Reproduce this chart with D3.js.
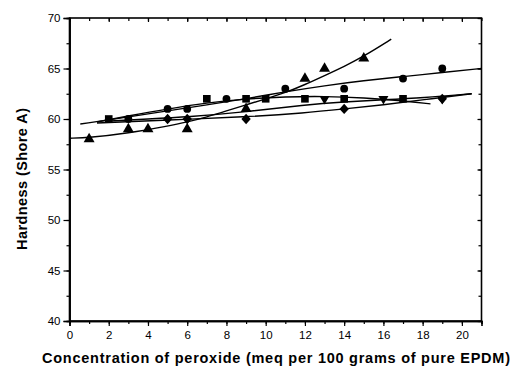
<!DOCTYPE html>
<html><head><meta charset="utf-8">
<script src="https://cdn.jsdelivr.net/npm/d3@7"></script>
<style>body{margin:0;background:#fff}svg{display:block}</style>
</head><body><svg id="c" width="512" height="368"></svg>
<script>
// Measured points (x = peroxide meq/100g, y = Shore A)
const squares   = [[2,60],[7,62],[9,62],[10,62],[12,62],[14,62],[17,62]];
const circles   = [[3,60],[5,61],[6,61],[8,62],[11,63],[14,63],[17,64],[19,65]];
const triUp     = [[1,58],[3,59],[4,59],[6,59],[9,61],[12,64],[13,65],[15,66]];
const diamonds  = [[5,60],[6,60],[9,60],[14,61],[19,62]];
const triDown   = [[13,62],[16,62],[19,62]];
// Fitted curves
const fitTriUp   = [[0,58.1],[1,58.15],[3,58.6],[5,59.3],[6,59.7],[7,60.2],[8,60.8],[9,61.4],[10,62.0],[11,62.6],[12,63.4],[13,64.3],[14,65.2],[15,66.2],[16.4,67.9]];
const fitCircle  = [[0.55,59.5],[3,60.2],[5,60.8],[7,61.4],[9,62.0],[11,62.7],[13,63.3],[15,63.8],[17,64.2],[19,64.6],[21,65.0]];
const fitSquare  = [[1.4,59.7],[3,60.3],[5,61.0],[7,61.6],[9,62.0],[11,62.2],[13,62.25],[15,62.1],[17,61.8],[18.4,61.5]];
const fitTriDown = [[2,59.8],[4,60.0],[6,60.2],[9,60.7],[12,61.4],[14,61.7],[16,61.9],[18,62.1],[20.5,62.5]];
const fitDiamond = [[1.4,59.6],[5,59.9],[9,60.2],[12,60.6],[14,61.0],[16,61.4],[18,61.9],[20.5,62.5]];
const xTicks = [0,2,4,6,8,10,12,14,16,18,20];
const yTicks = [40,45,50,55,60,65,70];
const xLabel = "Concentration of peroxide (meq per 100 grams of pure EPDM)";
const yLabel = "Hardness (Shore A)";

const svg = d3.select("#c");
const L=69.5, R=481.5, T=18, B=321;
const x = d3.scaleLinear().domain([0,21]).range([L,R]);
const y = d3.scaleLinear().domain([40,70]).range([B,T]);
const font = "'Liberation Sans', Arial, sans-serif";

const minorX = d3.range(0,22,1), minorY = d3.range(40,71,2.5);
// bottom axis
const gb = svg.append("g").attr("transform",`translate(0,${B})`)
  .call(d3.axisBottom(x).tickValues(minorX).tickSize(3).tickFormat(""));
gb.append("g").call(d3.axisBottom(x).tickValues(xTicks).tickSize(5).tickPadding(5).tickFormat(d3.format("d")));
// left axis
const gl = svg.append("g").attr("transform",`translate(${L},0)`)
  .call(d3.axisLeft(y).tickValues(minorY).tickSize(3).tickFormat(""));
gl.append("g").call(d3.axisLeft(y).tickValues(yTicks).tickSize(6).tickPadding(3).tickFormat(d3.format("d")));
// top axis (inward)
const gt = svg.append("g").attr("transform",`translate(0,${T})`)
  .call(d3.axisBottom(x).tickValues(minorX).tickSize(3).tickFormat(""));
gt.append("g").call(d3.axisBottom(x).tickValues(xTicks).tickSize(4).tickFormat(""));
// right axis (inward)
const gr = svg.append("g").attr("transform",`translate(${R},0)`)
  .call(d3.axisLeft(y).tickValues(minorY).tickSize(3).tickFormat(""));
gr.append("g").call(d3.axisLeft(y).tickValues(yTicks).tickSize(4).tickFormat(""));

svg.selectAll(".domain").attr("stroke","#000").attr("stroke-width",1.6);
svg.selectAll(".tick line").attr("stroke","#000").attr("stroke-width",1.2);
svg.selectAll(".tick text").attr("font-family",font).attr("font-size",11.5).attr("fill","#000");
[gt,gr].forEach(g=>g.selectAll(".domain").attr("d", null));
svg.append("rect").attr("x",L).attr("y",T).attr("width",R-L).attr("height",B-T)
  .attr("fill","none").attr("stroke","#000").attr("stroke-width",1.6);

// fit lines
const line = d3.line().x(d=>x(d[0])).y(d=>y(d[1])).curve(d3.curveBasis);
[fitTriUp,fitCircle,fitSquare,fitTriDown,fitDiamond].forEach(f=>{
  svg.append("path").attr("d",line(f)).attr("fill","none").attr("stroke","#000").attr("stroke-width",1.4);
});

// markers
function draw(data, type, size){
  const extra = type==="tridown" ? " rotate(180)" : type==="diamond" ? " scale(1.35,0.85)" : "";
  svg.append("g").selectAll("path").data(data).join("path")
    .attr("transform",d=>`translate(${x(d[0])},${y(d[1])})${extra}`)
    .attr("d", d3.symbol().type(
      type==="square"?d3.symbolSquare: type==="circle"?d3.symbolCircle:
      type==="diamond"?d3.symbolDiamond: d3.symbolTriangle).size(size)())
    .attr("fill","#000");
}
draw(squares,"square",58);
draw(circles,"circle",48);
draw(triUp,"tri",52);
draw(diamonds,"diamond",42);
draw(triDown,"tridown",44);

// titles
svg.append("text").attr("x",276).attr("y",363).attr("text-anchor","middle")
  .attr("font-family",font).attr("font-weight","bold").attr("font-size",14.5)
  .attr("textLength",468).attr("lengthAdjust","spacing").text(xLabel);
svg.append("text").attr("transform","translate(27,179) rotate(-90)").attr("text-anchor","middle")
  .attr("font-family",font).attr("font-weight","bold").attr("font-size",14.5)
  .attr("textLength",142).attr("lengthAdjust","spacing").text(yLabel);
</script></body></html>
